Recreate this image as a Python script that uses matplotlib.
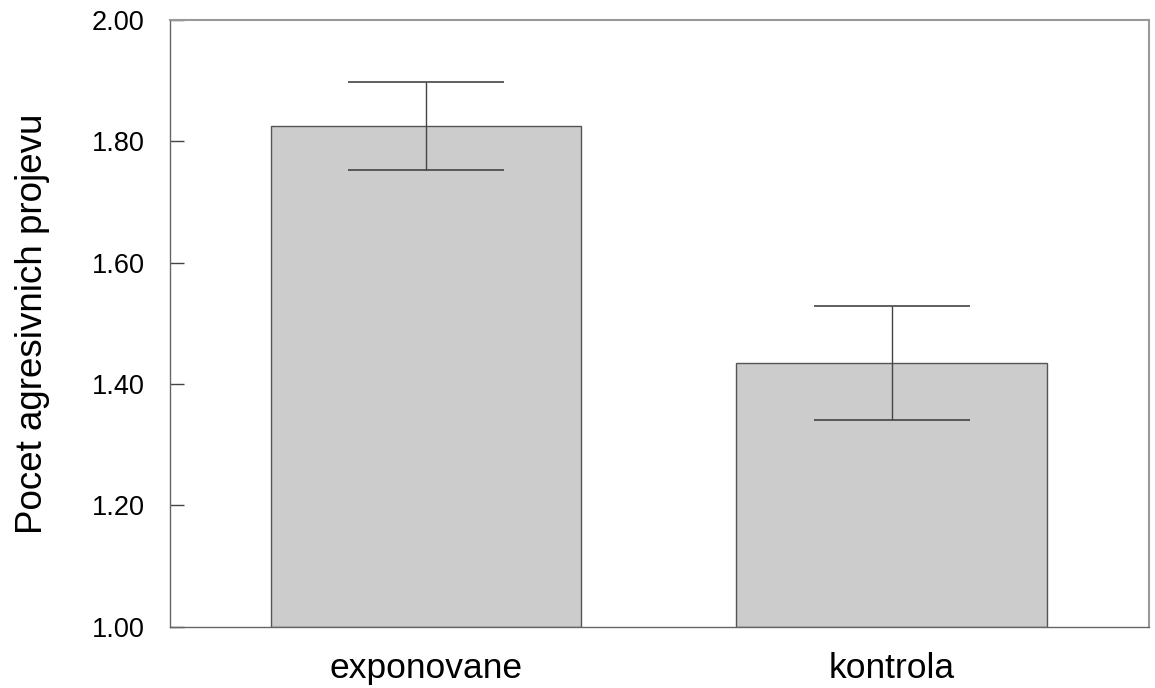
import matplotlib.pyplot as plt

# Data
groups = ['exponovane', 'kontrola']
means = [1.825, 1.435]
errors = [0.073, 0.0935]
yticks = [1.00, 1.20, 1.40, 1.60, 1.80, 2.00]

plt.rcParams['font.family'] = ['Liberation Sans', 'DejaVu Sans']

fig = plt.figure(figsize=(11.55, 6.88), dpi=100)
ax = fig.add_axes([0.1468, 0.0891, 0.8478, 0.8818])

x = range(len(groups))
ax.bar(x, [m - 1.0 for m in means], bottom=1.0, width=0.667,
       color='#cccccc', edgecolor='#555555', linewidth=1.0, zorder=2)
ax.errorbar(x, means, yerr=errors, fmt='none', ecolor='#444444',
            elinewidth=1.0, capsize=56, capthick=1.2, zorder=3)

ax.set_xlim(-0.552, 1.553)
ax.set_ylim(1.0, 2.0)
ax.set_yticks(yticks)
ax.set_yticklabels(['%.2f' % t for t in yticks], fontsize=19.5)
ax.set_xticks(list(x))
ax.set_xticklabels(groups, fontsize=25.5)
ax.tick_params(axis='x', length=0, pad=18)
ax.tick_params(axis='y', direction='in', length=10, width=1.0,
               color='#444444', pad=18)
ax.set_ylabel('Pocet agresivnich projevu', fontsize=26.5, labelpad=30)

for side in ['left', 'bottom']:
    ax.spines[side].set_color('#666666')
    ax.spines[side].set_linewidth(1.0)
for side in ['top', 'right']:
    ax.spines[side].set_color('#999999')
    ax.spines[side].set_linewidth(1.5)

fig.savefig('out.png', dpi=100)
